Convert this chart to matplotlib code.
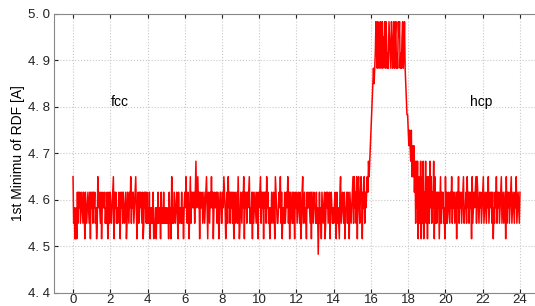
import numpy as np
import matplotlib
matplotlib.use("Agg")
import matplotlib.pyplot as plt

# ============================================================
# Data (RDF first minimum, quantised levels)
# level code k (base 36) -> 4.45 + k / 30
# ============================================================

fcc_codes = (
    "634224253545345435425434543525"
    "453545342364543524544534352353"
    "543456254534345425453543452354"
    "354635453456424535454352354535"
    "343524343523342435344253435343"
    "433425342634354345425344353424"
    "546435424635454535745645254453"
    "453456425435464524544535424553"
    "354654245364535453524534536423"
    "543546254535456343525345435425"
    "456354525453645342435435426543"
    "345463524435345463525345354254"
    "534543523563453425445435254354"
    "435341353425434523545345245434"
    "345425343256345435244535425434"
    "563645362564356525463545"
)

transition_codes = (
    "6576789abcdc"
    "degfdgedfgdegdfegdgfdedgfedgfdegdfgdedgfgdedfgdeg"
    "dcbaa9898796868573747263"
)

hcp_codes = (
    "472637254736265374635472635"
    "354524635453426353454354635453"
    "452546354534563445364535452634"
    "545636543545345634543546345453"
    "524354635453456345345263545345"
    "634543546345435"
)

x_ticks = list(range(0, 25, 2))
y_ticks = [4.4, 4.5, 4.6, 4.7, 4.8, 4.9, 5.0]
y_tick_labels = ["4. 4", "4. 5", "4. 6", "4. 7", "4. 8", "4. 9", "5. 0"]

phase_labels = [("fcc", 2.5, 4.81), ("hcp", 21.9, 4.81)]


def decode(codes):

    return np.array([4.45 + int(c, 36) / 30.0 for c in codes])


# ============================================================
# Plot
# ============================================================

plt.rcParams["font.family"] = ["Liberation Sans", "DejaVu Sans"]

values = decode(fcc_codes + transition_codes + hcp_codes)
steps = np.linspace(0, 24, len(values))

fig = plt.figure(figsize=(5.35, 3.06), dpi=100)
ax = fig.add_axes([0.1017, 0.0425, 0.905, 0.912])

ax.plot(steps, values, color="#ff0000", linewidth=1.1)

for text, tx, ty in phase_labels:
    ax.text(tx, ty, text, fontsize=10, ha="center", va="center")

ax.set_xlim(-1, 25)
ax.set_ylim(4.4, 5.0)
ax.set_xticks(x_ticks)
ax.set_yticks(y_ticks)
ax.set_yticklabels(y_tick_labels)

ax.set_ylabel("1st Minimu of RDF [A]", fontsize=10, labelpad=2)

ax.grid(True, linestyle=":", color="#c8c8c8", linewidth=0.8)

ax.tick_params(direction="in", labelsize=9.5, colors="#222222",
               top=True, length=3)
ax.tick_params(axis="x", pad=1)

for side in ["left", "top", "bottom"]:
    ax.spines[side].set_color("#888888")
ax.spines["right"].set_visible(False)

fig.savefig("out.png", dpi=100)
